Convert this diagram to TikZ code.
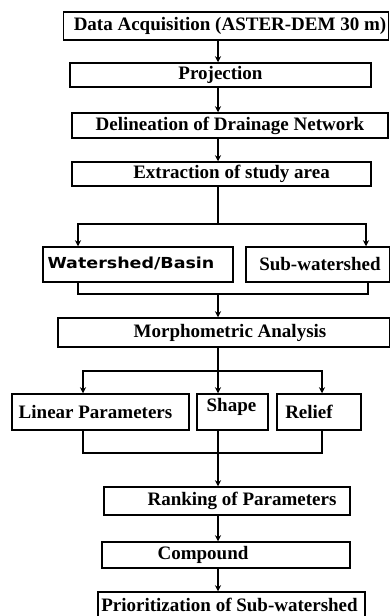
\documentclass[tikz,border=0pt]{standalone}
\usepackage{fontspec}
\setmainfont{Liberation Serif}
\newfontfamily\wsfont[FakeStretch=1.15]{DejaVu Sans}
\usetikzlibrary{arrows.meta,positioning}

\begin{document}
\begin{tikzpicture}[x=1pt,y=-1pt,>={Stealth[length=6pt,width=6pt]},
	box/.style={draw,line width=1.5pt,inner sep=0pt,minimum height=25pt},
	lbl/.style={font=\fontsize{19}{21}\selectfont\bfseries,inner sep=0pt},
	link/.style={line width=1.4pt}
	]

	\useasboundingbox (0,0) rectangle (390,616);

	\node[box,minimum width=325pt,minimum height=28pt,label={[lbl,xshift=4pt]center:Data Acquisition (ASTER-DEM 30 m)}] (data) at (226,26) {};
	\node[box,minimum width=301pt,minimum height=24pt,label={[lbl]center:Projection}] (proj) at (220.5,75) {};
	\node[box,minimum width=316pt,label={[lbl]center:Delineation of Drainage Network}] (drain) at (230,125.5) {};
	\node[box,minimum width=299pt,minimum height=24pt,label={[lbl,xshift=10pt]center:Extraction of study area}] (extract) at (221.5,174) {};

	\draw[link,->] (data.south -| 218,0) -- (proj.north -| 218,0);
	\draw[link,->] (proj.south -| 218,0) -- (drain.north -| 218,0);
	\draw[link,->] (drain.south -| 218,0) -- (extract.north -| 218,0);

	\node[box,minimum width=190pt,minimum height=35pt,label={[lbl,font=\wsfont\fontsize{15.2}{18}\selectfont\bfseries,xshift=-7pt,yshift=1pt]center:Watershed/Basin}] (basin) at (138,264.5) {};
	\node[box,minimum width=144pt,minimum height=35pt,label={[lbl,xshift=2pt]center:Sub-watershed}] (sub) at (318,264.5) {};

	\coordinate (split1) at (218,224);
	\draw[link] (extract.south -| split1) -- (split1);
	\draw[link,->] (split1) -| (basin.north -| 78,0);
	\draw[link,->] (split1) -| (sub.north -| 366,0);

	\node[box,minimum width=332pt,minimum height=29pt,label={[lbl,xshift=6pt]center:Morphometric Analysis}] (morph) at (224,332.5) {};

	\coordinate (join1) at (218,294);
	\coordinate (j1l) at (78,294);
	\coordinate (j1r) at (368,294);
	\draw[link] (basin.south -| j1l) -- (j1l) -- (j1r) -- (sub.south -| j1r);
	\draw[link,->] (join1) -- (morph.north -| join1);

	\node[box,minimum width=177pt,minimum height=36pt,label={[lbl,xshift=-5pt]center:Linear Parameters}] (linear) at (100.5,412) {};
	\node[box,minimum width=71pt,minimum height=36pt,label={[lbl,yshift=5pt,xshift=-1pt]center:Shape}] (shape) at (232.5,412) {};
	\node[box,minimum width=84pt,minimum height=36pt,label={[lbl,xshift=-10pt]center:Relief}] (relief) at (319,412) {};

	\coordinate (split2) at (218,371);
	\draw[link] (morph.south -| split2) -- (split2);
	\draw[link,->] (split2) -| (linear.north -| 83,0);
	\draw[link,->] (split2) -- (shape.north -| split2);
	\draw[link,->] (split2) -| (relief.north -| 322,0);

	\node[box,minimum width=246pt,minimum height=28pt,label={[lbl,xshift=15pt]center:Ranking of Parameters}] (rank) at (227,501) {};
	\node[box,minimum width=248pt,minimum height=26pt,label={[lbl,xshift=-23pt]center:Compound}] (comp) at (226,555) {};
	\node[box,minimum width=267pt,minimum height=26pt,label={[lbl,xshift=-2pt]center:Prioritization of Sub-watershed}] (prior) at (231.5,605) {};

	\coordinate (join2) at (218,453);
	\coordinate (j2l) at (83,453);
	\coordinate (j2r) at (322,453);
	\draw[link] (linear.south -| j2l) -- (j2l) -- (j2r) -- (relief.south -| j2r);
	\draw[link,->] (shape.south -| join2) -- (rank.north -| join2);
	\draw[link,->] (rank.south -| 218,0) -- (comp.north -| 218,0);
	\draw[link,->] (comp.south -| 218,0) -- (prior.north -| 218,0);
\end{tikzpicture}
\end{document}
